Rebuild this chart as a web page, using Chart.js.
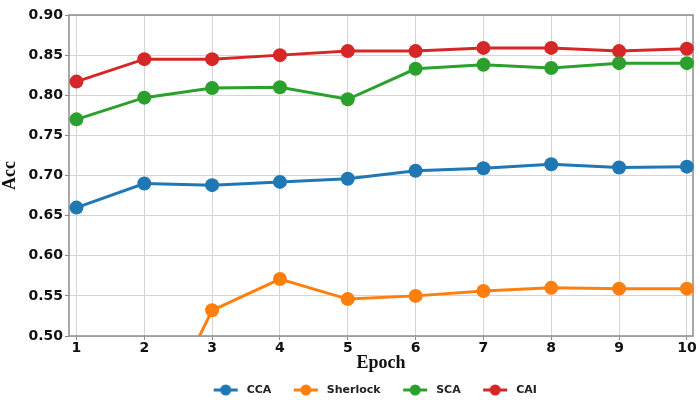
<!DOCTYPE html>
<html><head><meta charset="utf-8">
<script src="https://cdn.jsdelivr.net/npm/chart.js@4"></script>
<style>html,body{margin:0;padding:0;background:#fff}#wrap{width:700px;height:400px}</style>
</head><body><div id="wrap"><canvas id="c" width="700" height="400"></canvas></div>
<script>
const epochs = [1, 2, 3, 4, 5, 6, 7, 8, 9, 10];
const yTickValues = [0.50, 0.55, 0.60, 0.65, 0.70, 0.75, 0.80, 0.85, 0.90];
const seriesNames = ['CCA', 'Sherlock', 'SCA', 'CAI'];
const ccaAcc      = [0.660, 0.690, 0.688, 0.692, 0.696, 0.706, 0.709, 0.714, 0.710, 0.711];
const sherlockAcc = [null, 0.36, 0.532, 0.571, 0.546, 0.550, 0.556, 0.560, 0.559, 0.559];
const scaAcc      = [0.770, 0.797, 0.809, 0.810, 0.795, 0.833, 0.838, 0.834, 0.840, 0.840];
const caiAcc      = [0.817, 0.845, 0.845, 0.850, 0.855, 0.855, 0.859, 0.859, 0.855, 0.858];

const colors = ['#1f77b4', '#ff7f0e', '#2ca02c', '#d62728'];
const allSeries = [ccaAcc, sherlockAcc, scaAcc, caiAcc];

function legendIcon(color) {
  const cv = document.createElement('canvas');
  cv.width = 26; cv.height = 12;
  const g = cv.getContext('2d');
  g.strokeStyle = color; g.lineWidth = 3;
  g.beginPath(); g.moveTo(1, 6); g.lineTo(25, 6); g.stroke();
  g.fillStyle = color;
  g.beginPath(); g.arc(13, 6, 5.5, 0, Math.PI * 2); g.fill();
  return cv;
}

const datasets = seriesNames.map((name, i) => ({
  label: name,
  data: epochs.map((e, k) => ({ x: e, y: allSeries[i][k] })),
  borderColor: colors[i],
  backgroundColor: colors[i],
  borderWidth: 3,
  pointRadius: 7,
  pointHoverRadius: 7,
  pointBorderWidth: 0,
  pointStyle: 'circle',
  tension: 0,
  spanGaps: false,
  clip: { left: 12, right: 12, top: 12, bottom: 0 }
}));

const frame = {
  id: 'frame',
  beforeDatasetsDraw(chart) {
    const a = chart.chartArea, ctx = chart.ctx;
    ctx.save();
    ctx.strokeStyle = '#8c8c8c';
    ctx.lineWidth = 1.5;
    ctx.strokeRect(a.left, a.top, a.right - a.left, a.bottom - a.top);
    ctx.restore();
  }
};

const LEGEND_PAD = 19;
const legendFix = {
  id: 'legendFix',
  beforeLayout(chart) {
    const lg = chart.legend;
    if (lg && !lg._patched) {
      const f = lg.fit.bind(lg);
      lg.fit = function () { f(); this.height = 26; };
      lg._patched = true;
    }
  },
  beforeDraw(chart) {
    const lg = chart.legend;
    if (lg && !lg._moved) {
      lg.top = 390 - 5.5 - LEGEND_PAD;
      lg.bottom = 400;
      lg.left += 25;
      lg.right += 25;
      lg._moved = true;
    }
  }
};

const tickFont = { family: 'DejaVu Sans', size: 14, weight: 'bold' };
const titleFont = { family: 'Liberation Serif', size: 18, weight: 'bold' };

new Chart(document.getElementById('c'), {
  type: 'line',
  data: { datasets },
  options: {
    responsive: false,
    animation: false,
    layout: { padding: { left: 0, right: 3, top: 15, bottom: 0 } },
    scales: {
      x: {
        type: 'linear',
        min: 0.89, max: 10.09,
        afterBuildTicks: s => { s.ticks = epochs.map(v => ({ value: v })); },
        afterFit: s => { s.height = 38; },
        grid: { color: '#d4d4d4', lineWidth: 1, tickLength: 4, tickColor: '#8c8c8c' },
        border: { display: false },
        ticks: { font: tickFont, color: '#111', padding: 0, maxRotation: 0, callback: v => String(v) },
        title: { display: true, text: 'Epoch', font: titleFont, color: '#111', padding: { top: 0, bottom: 0 } }
      },
      y: {
        min: 0.5, max: 0.9,
        afterBuildTicks: s => { s.ticks = yTickValues.map(v => ({ value: v })); },
        afterFit: s => { s.width = 69; },
        grid: { color: '#d4d4d4', lineWidth: 1, tickLength: 4, tickColor: '#8c8c8c' },
        border: { display: false },
        ticks: { font: tickFont, color: '#111', padding: 2, callback: v => Number(v).toFixed(2) },
        title: { display: true, text: 'Acc', font: titleFont, color: '#111', padding: { top: 0, bottom: 2 } }
      }
    },
    plugins: {
      tooltip: { enabled: false },
      legend: {
        position: 'bottom',
        labels: {
          usePointStyle: true,
          pointStyleWidth: 31,
          padding: LEGEND_PAD,
          font: { family: 'DejaVu Sans', size: 11, weight: 'bold' },
          color: '#222',
          generateLabels: chart => chart.data.datasets.map((d, i) => ({
            text: d.label,
            pointStyle: legendIcon(colors[i]),
            fillStyle: colors[i],
            strokeStyle: colors[i],
            lineWidth: 0,
            hidden: false,
            datasetIndex: i,
            fontColor: '#222'
          }))
        }
      }
    }
  },
  plugins: [frame, legendFix]
});
</script>
</body></html>
